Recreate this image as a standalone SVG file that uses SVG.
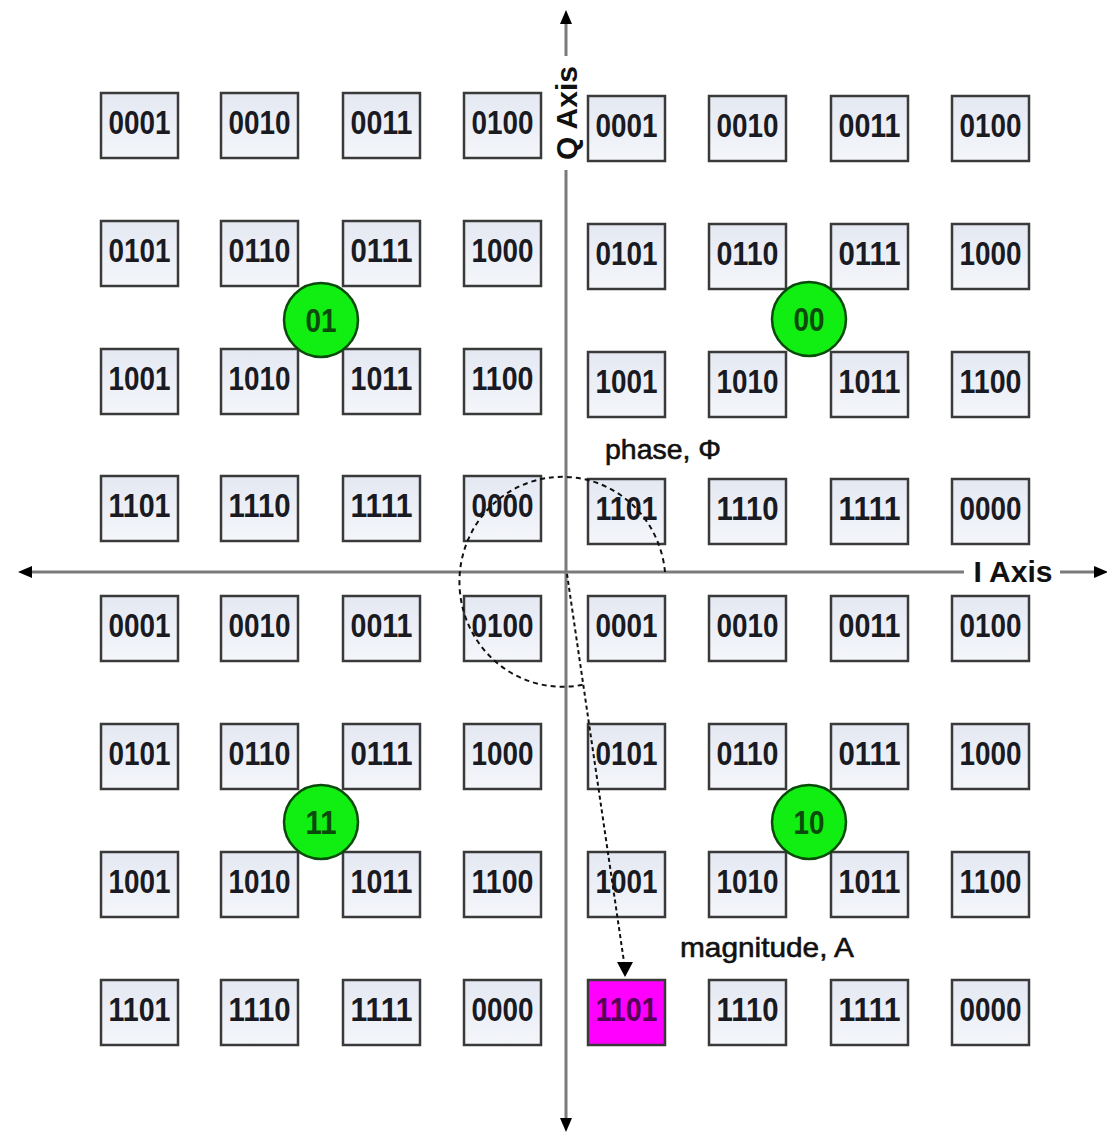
<svg xmlns="http://www.w3.org/2000/svg" width="1107" height="1133" viewBox="0 0 1107 1133">
<style>
.b rect{fill:url(#g);stroke:#3a3a3a;stroke-width:2.5}
.b text{font-family:"Liberation Sans",Arial,sans-serif;font-weight:bold;font-size:34px;fill:#1a1a22;text-anchor:middle}
.c circle{fill:#11ee11;stroke:#0a4a0a;stroke-width:2.5}
.c text{font-family:"Liberation Sans",Arial,sans-serif;font-weight:bold;font-size:33px;fill:#0a4a0a;text-anchor:middle}
.lbl{font-family:"Liberation Sans",Arial,sans-serif;font-weight:bold;font-size:30px;fill:#111}
.txt{font-family:"Liberation Sans",Arial,sans-serif;font-size:28px;fill:#111;stroke:#111;stroke-width:0.6}
.ax{stroke:#7a7a7a;stroke-width:3;fill:none}
.dash{fill:none;stroke:#111;stroke-width:2;stroke-dasharray:5,4}
</style>
<defs>
<linearGradient id="g" x1="0" y1="0" x2="0" y2="1">
<stop offset="0" stop-color="#e4e8f2"/>
<stop offset="1" stop-color="#f4f6fa"/>
</linearGradient>
</defs>
<rect width="1107" height="1133" fill="#fff"/>

<g id="connectors">
<line class="ax" x1="566" y1="1122" x2="566" y2="24"/>
<path d="M566,10 L560,24 L572,24 z" fill="#000"/>
<path d="M566,1132 L560,1118 L572,1118 z" fill="#000"/>
<line class="ax" x1="30" y1="572" x2="1096" y2="572"/>
<path d="M18,572 L32,566 L32,578 z" fill="#000"/>
<path d="M1108,572 L1094,566 L1094,578 z" fill="#000"/>
</g>

<g id="axis-labels">
<rect x="551" y="56" width="30" height="114" fill="#fff"/>
<text class="lbl" transform="translate(577,113) rotate(-90)" text-anchor="middle">Q Axis</text>
<rect x="964" y="557" width="96" height="30" fill="#fff"/>
<text class="lbl" x="1013" y="582" text-anchor="middle">I Axis</text>
<text class="txt" x="605" y="459" textLength="116" lengthAdjust="spacingAndGlyphs">phase, Φ</text>
<text class="txt" x="680" y="957" textLength="174" lengthAdjust="spacingAndGlyphs">magnitude, A</text>
</g>

<!-- Top-left quadrant -->
<g id="q-tl" class="b">
<g id="tl-1-1"><rect x="101" y="93" width="77" height="65"/><text x="139.5" y="134" textLength="62" lengthAdjust="spacingAndGlyphs">0001</text></g>
<g id="tl-1-2"><rect x="221" y="93" width="77" height="65"/><text x="259.5" y="134" textLength="62" lengthAdjust="spacingAndGlyphs">0010</text></g>
<g id="tl-1-3"><rect x="343" y="93" width="77" height="65"/><text x="381.5" y="134" textLength="62" lengthAdjust="spacingAndGlyphs">0011</text></g>
<g id="tl-1-4"><rect x="464" y="93" width="77" height="65"/><text x="502.5" y="134" textLength="62" lengthAdjust="spacingAndGlyphs">0100</text></g>
<g id="tl-2-1"><rect x="101" y="221" width="77" height="65"/><text x="139.5" y="262" textLength="62" lengthAdjust="spacingAndGlyphs">0101</text></g>
<g id="tl-2-2"><rect x="221" y="221" width="77" height="65"/><text x="259.5" y="262" textLength="62" lengthAdjust="spacingAndGlyphs">0110</text></g>
<g id="tl-2-3"><rect x="343" y="221" width="77" height="65"/><text x="381.5" y="262" textLength="62" lengthAdjust="spacingAndGlyphs">0111</text></g>
<g id="tl-2-4"><rect x="464" y="221" width="77" height="65"/><text x="502.5" y="262" textLength="62" lengthAdjust="spacingAndGlyphs">1000</text></g>
<g id="tl-3-1"><rect x="101" y="349" width="77" height="65"/><text x="139.5" y="390" textLength="62" lengthAdjust="spacingAndGlyphs">1001</text></g>
<g id="tl-3-2"><rect x="221" y="349" width="77" height="65"/><text x="259.5" y="390" textLength="62" lengthAdjust="spacingAndGlyphs">1010</text></g>
<g id="tl-3-3"><rect x="343" y="349" width="77" height="65"/><text x="381.5" y="390" textLength="62" lengthAdjust="spacingAndGlyphs">1011</text></g>
<g id="tl-3-4"><rect x="464" y="349" width="77" height="65"/><text x="502.5" y="390" textLength="62" lengthAdjust="spacingAndGlyphs">1100</text></g>
<g id="tl-4-1"><rect x="101" y="476" width="77" height="65"/><text x="139.5" y="517" textLength="62" lengthAdjust="spacingAndGlyphs">1101</text></g>
<g id="tl-4-2"><rect x="221" y="476" width="77" height="65"/><text x="259.5" y="517" textLength="62" lengthAdjust="spacingAndGlyphs">1110</text></g>
<g id="tl-4-3"><rect x="343" y="476" width="77" height="65"/><text x="381.5" y="517" textLength="62" lengthAdjust="spacingAndGlyphs">1111</text></g>
<g id="tl-4-4"><rect x="464" y="476" width="77" height="65"/><text x="502.5" y="517" textLength="62" lengthAdjust="spacingAndGlyphs">0000</text></g>
</g>

<!-- Top-right quadrant -->
<g id="q-tr" class="b">
<g id="tr-1-1"><rect x="588" y="96" width="77" height="65"/><text x="626.5" y="137" textLength="62" lengthAdjust="spacingAndGlyphs">0001</text></g>
<g id="tr-1-2"><rect x="709" y="96" width="77" height="65"/><text x="747.5" y="137" textLength="62" lengthAdjust="spacingAndGlyphs">0010</text></g>
<g id="tr-1-3"><rect x="831" y="96" width="77" height="65"/><text x="869.5" y="137" textLength="62" lengthAdjust="spacingAndGlyphs">0011</text></g>
<g id="tr-1-4"><rect x="952" y="96" width="77" height="65"/><text x="990.5" y="137" textLength="62" lengthAdjust="spacingAndGlyphs">0100</text></g>
<g id="tr-2-1"><rect x="588" y="224" width="77" height="65"/><text x="626.5" y="265" textLength="62" lengthAdjust="spacingAndGlyphs">0101</text></g>
<g id="tr-2-2"><rect x="709" y="224" width="77" height="65"/><text x="747.5" y="265" textLength="62" lengthAdjust="spacingAndGlyphs">0110</text></g>
<g id="tr-2-3"><rect x="831" y="224" width="77" height="65"/><text x="869.5" y="265" textLength="62" lengthAdjust="spacingAndGlyphs">0111</text></g>
<g id="tr-2-4"><rect x="952" y="224" width="77" height="65"/><text x="990.5" y="265" textLength="62" lengthAdjust="spacingAndGlyphs">1000</text></g>
<g id="tr-3-1"><rect x="588" y="352" width="77" height="65"/><text x="626.5" y="393" textLength="62" lengthAdjust="spacingAndGlyphs">1001</text></g>
<g id="tr-3-2"><rect x="709" y="352" width="77" height="65"/><text x="747.5" y="393" textLength="62" lengthAdjust="spacingAndGlyphs">1010</text></g>
<g id="tr-3-3"><rect x="831" y="352" width="77" height="65"/><text x="869.5" y="393" textLength="62" lengthAdjust="spacingAndGlyphs">1011</text></g>
<g id="tr-3-4"><rect x="952" y="352" width="77" height="65"/><text x="990.5" y="393" textLength="62" lengthAdjust="spacingAndGlyphs">1100</text></g>
<g id="tr-4-1"><rect x="588" y="479" width="77" height="65"/><text x="626.5" y="520" textLength="62" lengthAdjust="spacingAndGlyphs">1101</text></g>
<g id="tr-4-2"><rect x="709" y="479" width="77" height="65"/><text x="747.5" y="520" textLength="62" lengthAdjust="spacingAndGlyphs">1110</text></g>
<g id="tr-4-3"><rect x="831" y="479" width="77" height="65"/><text x="869.5" y="520" textLength="62" lengthAdjust="spacingAndGlyphs">1111</text></g>
<g id="tr-4-4"><rect x="952" y="479" width="77" height="65"/><text x="990.5" y="520" textLength="62" lengthAdjust="spacingAndGlyphs">0000</text></g>
</g>

<!-- Bottom-left quadrant -->
<g id="q-bl" class="b">
<g id="bl-1-1"><rect x="101" y="596" width="77" height="65"/><text x="139.5" y="637" textLength="62" lengthAdjust="spacingAndGlyphs">0001</text></g>
<g id="bl-1-2"><rect x="221" y="596" width="77" height="65"/><text x="259.5" y="637" textLength="62" lengthAdjust="spacingAndGlyphs">0010</text></g>
<g id="bl-1-3"><rect x="343" y="596" width="77" height="65"/><text x="381.5" y="637" textLength="62" lengthAdjust="spacingAndGlyphs">0011</text></g>
<g id="bl-1-4"><rect x="464" y="596" width="77" height="65"/><text x="502.5" y="637" textLength="62" lengthAdjust="spacingAndGlyphs">0100</text></g>
<g id="bl-2-1"><rect x="101" y="724" width="77" height="65"/><text x="139.5" y="765" textLength="62" lengthAdjust="spacingAndGlyphs">0101</text></g>
<g id="bl-2-2"><rect x="221" y="724" width="77" height="65"/><text x="259.5" y="765" textLength="62" lengthAdjust="spacingAndGlyphs">0110</text></g>
<g id="bl-2-3"><rect x="343" y="724" width="77" height="65"/><text x="381.5" y="765" textLength="62" lengthAdjust="spacingAndGlyphs">0111</text></g>
<g id="bl-2-4"><rect x="464" y="724" width="77" height="65"/><text x="502.5" y="765" textLength="62" lengthAdjust="spacingAndGlyphs">1000</text></g>
<g id="bl-3-1"><rect x="101" y="852" width="77" height="65"/><text x="139.5" y="893" textLength="62" lengthAdjust="spacingAndGlyphs">1001</text></g>
<g id="bl-3-2"><rect x="221" y="852" width="77" height="65"/><text x="259.5" y="893" textLength="62" lengthAdjust="spacingAndGlyphs">1010</text></g>
<g id="bl-3-3"><rect x="343" y="852" width="77" height="65"/><text x="381.5" y="893" textLength="62" lengthAdjust="spacingAndGlyphs">1011</text></g>
<g id="bl-3-4"><rect x="464" y="852" width="77" height="65"/><text x="502.5" y="893" textLength="62" lengthAdjust="spacingAndGlyphs">1100</text></g>
<g id="bl-4-1"><rect x="101" y="980" width="77" height="65"/><text x="139.5" y="1021" textLength="62" lengthAdjust="spacingAndGlyphs">1101</text></g>
<g id="bl-4-2"><rect x="221" y="980" width="77" height="65"/><text x="259.5" y="1021" textLength="62" lengthAdjust="spacingAndGlyphs">1110</text></g>
<g id="bl-4-3"><rect x="343" y="980" width="77" height="65"/><text x="381.5" y="1021" textLength="62" lengthAdjust="spacingAndGlyphs">1111</text></g>
<g id="bl-4-4"><rect x="464" y="980" width="77" height="65"/><text x="502.5" y="1021" textLength="62" lengthAdjust="spacingAndGlyphs">0000</text></g>
</g>

<!-- Bottom-right quadrant -->
<g id="q-br" class="b">
<g id="br-1-1"><rect x="588" y="596" width="77" height="65"/><text x="626.5" y="637" textLength="62" lengthAdjust="spacingAndGlyphs">0001</text></g>
<g id="br-1-2"><rect x="709" y="596" width="77" height="65"/><text x="747.5" y="637" textLength="62" lengthAdjust="spacingAndGlyphs">0010</text></g>
<g id="br-1-3"><rect x="831" y="596" width="77" height="65"/><text x="869.5" y="637" textLength="62" lengthAdjust="spacingAndGlyphs">0011</text></g>
<g id="br-1-4"><rect x="952" y="596" width="77" height="65"/><text x="990.5" y="637" textLength="62" lengthAdjust="spacingAndGlyphs">0100</text></g>
<g id="br-2-1"><rect x="588" y="724" width="77" height="65"/><text x="626.5" y="765" textLength="62" lengthAdjust="spacingAndGlyphs">0101</text></g>
<g id="br-2-2"><rect x="709" y="724" width="77" height="65"/><text x="747.5" y="765" textLength="62" lengthAdjust="spacingAndGlyphs">0110</text></g>
<g id="br-2-3"><rect x="831" y="724" width="77" height="65"/><text x="869.5" y="765" textLength="62" lengthAdjust="spacingAndGlyphs">0111</text></g>
<g id="br-2-4"><rect x="952" y="724" width="77" height="65"/><text x="990.5" y="765" textLength="62" lengthAdjust="spacingAndGlyphs">1000</text></g>
<g id="br-3-1"><rect x="588" y="852" width="77" height="65"/><text x="626.5" y="893" textLength="62" lengthAdjust="spacingAndGlyphs">1001</text></g>
<g id="br-3-2"><rect x="709" y="852" width="77" height="65"/><text x="747.5" y="893" textLength="62" lengthAdjust="spacingAndGlyphs">1010</text></g>
<g id="br-3-3"><rect x="831" y="852" width="77" height="65"/><text x="869.5" y="893" textLength="62" lengthAdjust="spacingAndGlyphs">1011</text></g>
<g id="br-3-4"><rect x="952" y="852" width="77" height="65"/><text x="990.5" y="893" textLength="62" lengthAdjust="spacingAndGlyphs">1100</text></g>
<g id="br-4-1"><rect x="588" y="980" width="77" height="65" style="fill:#ff00ff"/><text x="626.5" y="1021" textLength="62" lengthAdjust="spacingAndGlyphs" style="fill:#550055">1101</text></g>
<g id="br-4-2"><rect x="709" y="980" width="77" height="65"/><text x="747.5" y="1021" textLength="62" lengthAdjust="spacingAndGlyphs">1110</text></g>
<g id="br-4-3"><rect x="831" y="980" width="77" height="65"/><text x="869.5" y="1021" textLength="62" lengthAdjust="spacingAndGlyphs">1111</text></g>
<g id="br-4-4"><rect x="952" y="980" width="77" height="65"/><text x="990.5" y="1021" textLength="62" lengthAdjust="spacingAndGlyphs">0000</text></g>
</g>

<g id="phase-magnitude">
<path class="dash" d="M665,572 A103,105 0 1 0 586,684"/>
<path class="dash" d="M567,574 L624,962" style="stroke-dasharray:4,3"/>
<path d="M625,977 L617,962 L633,962 z" fill="#000"/>
</g>

<g id="symbols" class="c">
<g id="sym-01"><circle cx="321" cy="320" r="37"/><text x="321" y="332" textLength="31" lengthAdjust="spacingAndGlyphs">01</text></g>
<g id="sym-00"><circle cx="809" cy="319" r="37"/><text x="809" y="331" textLength="31" lengthAdjust="spacingAndGlyphs">00</text></g>
<g id="sym-11"><circle cx="321" cy="822" r="37"/><text x="321" y="834" textLength="31" lengthAdjust="spacingAndGlyphs">11</text></g>
<g id="sym-10"><circle cx="809" cy="822" r="37"/><text x="809" y="834" textLength="31" lengthAdjust="spacingAndGlyphs">10</text></g>
</g>
</svg>
